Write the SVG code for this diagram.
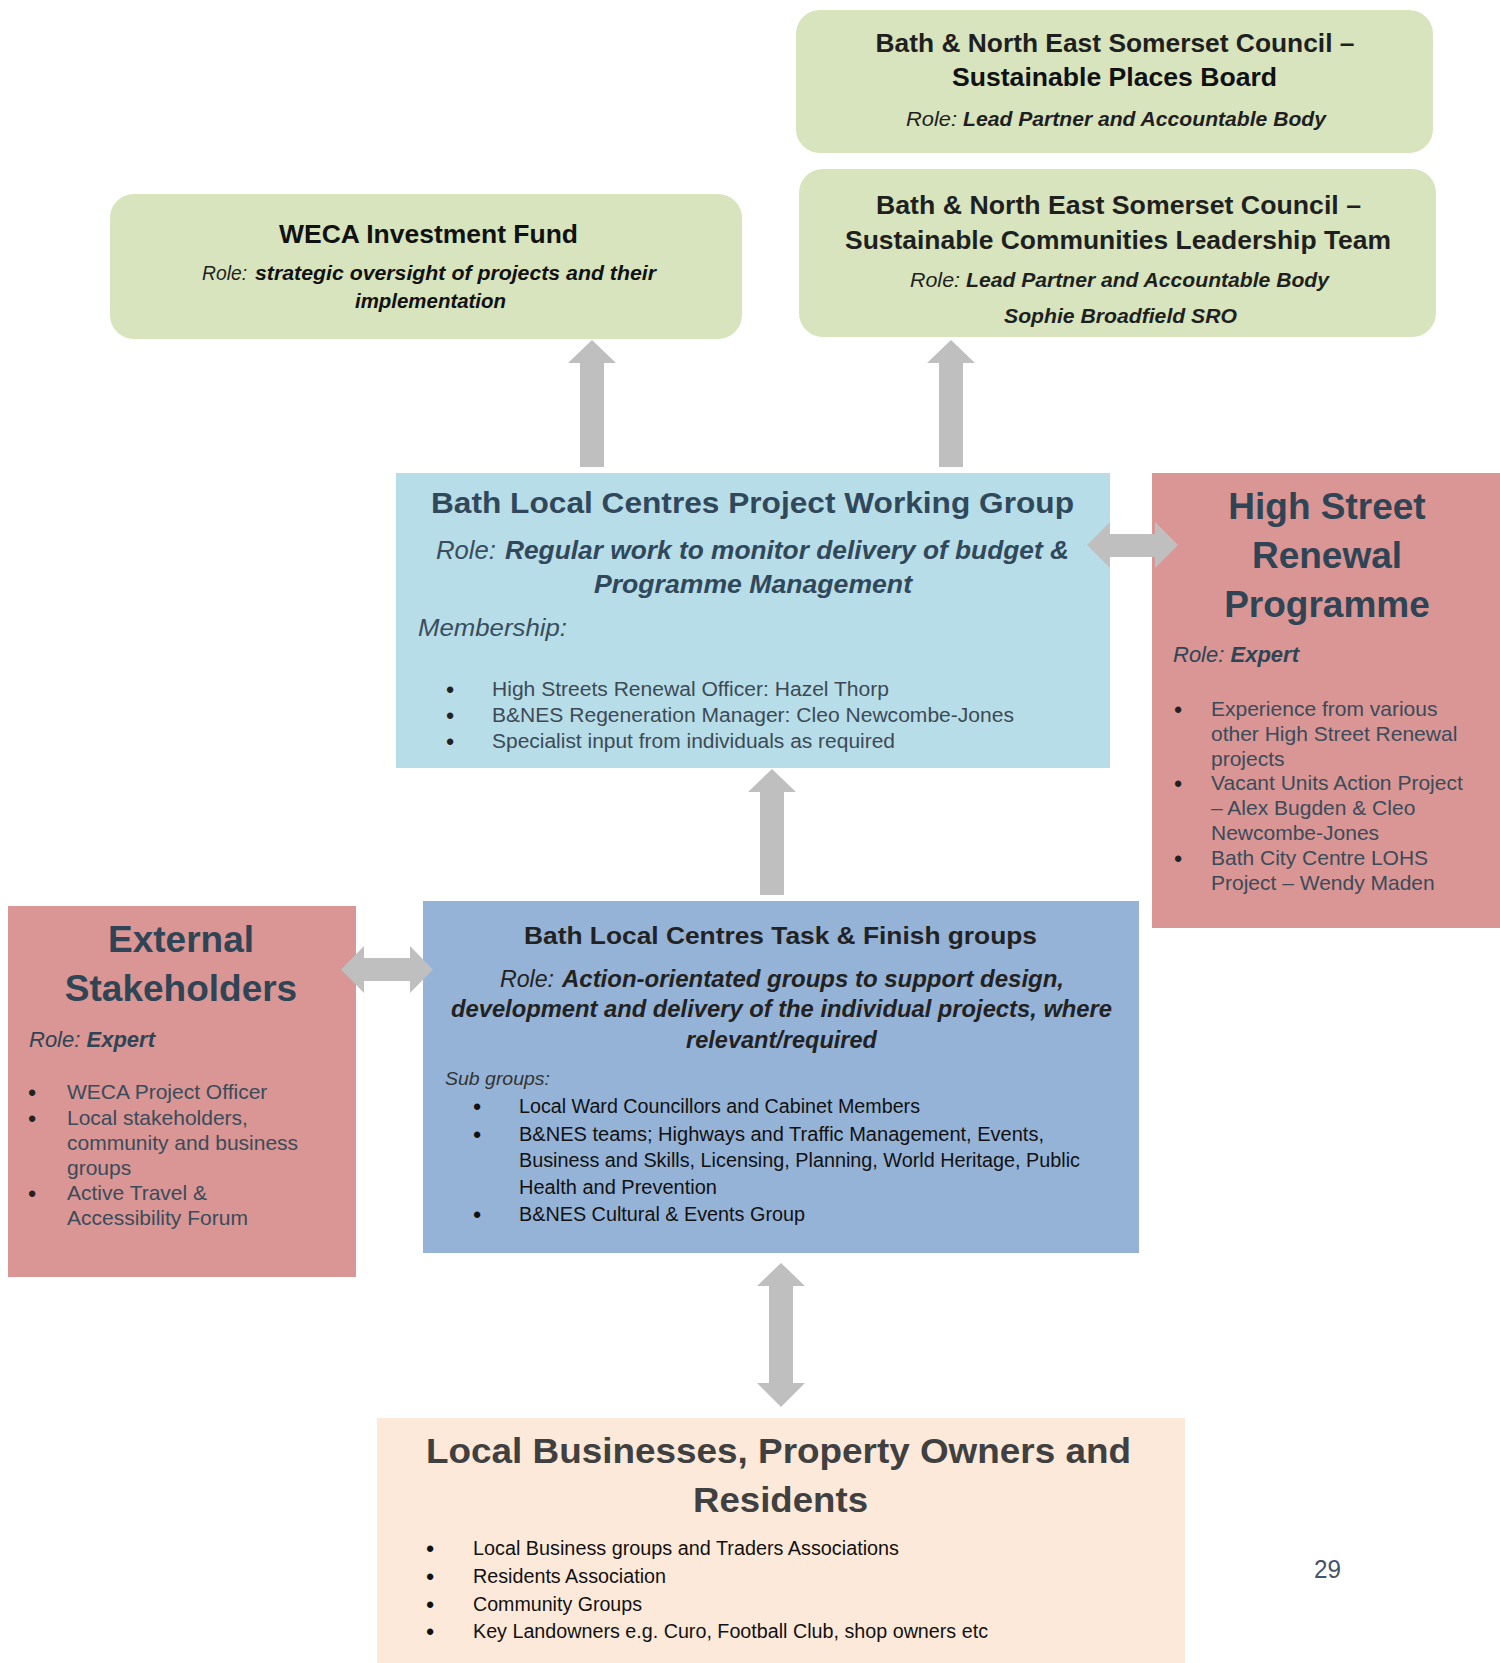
<svg xmlns="http://www.w3.org/2000/svg" width="1500" height="1663" viewBox="0 0 1500 1663">
<style>
text{font-family:"Liberation Sans",Arial,sans-serif}
.b{font-weight:bold}
.i{font-style:italic}
.bi{font-weight:bold;font-style:italic}
.g{fill:#d7e4bd}
.gt{fill:#1f1f1f}
.pk{fill:#d99694}
.pkt{fill:#2f4455}
.pkb{fill:#3a4b5a;font-size:21px}
.arr{fill:#bfbfbf}
.bul{text-anchor:middle;font-size:22px;font-weight:bold}
.c{text-anchor:middle}
</style>
<rect width="1500" height="1663" fill="#ffffff"/>

<g id="places-board">
<rect x="796" y="10" width="637" height="143" rx="24" class="g"/>
<text x="875.5" y="52" class="b gt" font-size="25" textLength="479" lengthAdjust="spacingAndGlyphs">Bath &amp; North East Somerset Council –</text>
<text x="952" y="86" class="b" fill="#111" font-size="25" textLength="325" lengthAdjust="spacingAndGlyphs">Sustainable Places Board</text>
<text x="906" y="126" class="i gt" font-size="20" textLength="51" lengthAdjust="spacingAndGlyphs">Role:</text>
<text x="963" y="126" class="bi gt" font-size="20" textLength="363" lengthAdjust="spacingAndGlyphs">Lead Partner and Accountable Body</text>
</g>

<g id="leadership-team">
<rect x="799" y="169" width="637" height="168" rx="24" class="g"/>
<text x="876" y="214" class="b gt" font-size="25" textLength="485" lengthAdjust="spacingAndGlyphs">Bath &amp; North East Somerset Council –</text>
<text x="845" y="249" class="b gt" font-size="25" textLength="546" lengthAdjust="spacingAndGlyphs">Sustainable Communities Leadership Team</text>
<text x="910" y="287" class="i gt" font-size="20" textLength="50" lengthAdjust="spacingAndGlyphs">Role:</text>
<text x="966" y="287" class="bi gt" font-size="20" textLength="363" lengthAdjust="spacingAndGlyphs">Lead Partner and Accountable Body</text>
<text x="1004" y="323" class="bi gt" font-size="20" textLength="233" lengthAdjust="spacingAndGlyphs">Sophie Broadfield SRO</text>
</g>

<g id="weca">
<rect x="110" y="194" width="632" height="145" rx="24" class="g"/>
<text x="279" y="243" class="b" fill="#111" font-size="25" textLength="299" lengthAdjust="spacingAndGlyphs">WECA Investment Fund</text>
<text x="202" y="280" class="i gt" font-size="20" textLength="45" lengthAdjust="spacingAndGlyphs">Role:</text>
<text x="255" y="280" class="bi" fill="#111" font-size="20" textLength="401" lengthAdjust="spacingAndGlyphs">strategic oversight of projects and their</text>
<text x="355" y="308" class="bi" fill="#111" font-size="20" textLength="151" lengthAdjust="spacingAndGlyphs">implementation</text>
</g>

<g id="working-group">
<rect x="396" y="473" width="714" height="295" fill="#b7dde8"/>
<text x="431" y="513" class="b" fill="#31485a" font-size="29" textLength="643" lengthAdjust="spacingAndGlyphs">Bath Local Centres Project Working Group</text>
<text x="436" y="559" class="i" fill="#3a4d5c" font-size="25" textLength="60" lengthAdjust="spacingAndGlyphs">Role:</text>
<text x="505" y="559" class="bi" fill="#31485a" font-size="25" textLength="564" lengthAdjust="spacingAndGlyphs">Regular work to monitor delivery of budget &amp;</text>
<text x="594" y="593" class="bi" fill="#31485a" font-size="25" textLength="318" lengthAdjust="spacingAndGlyphs">Programme Management</text>
<text x="418" y="636" class="i" fill="#3a4d5c" font-size="23" textLength="149" lengthAdjust="spacingAndGlyphs">Membership:</text>
<text x="450" y="697" class="bul" fill="#222">•</text>
<text x="450" y="723" class="bul" fill="#222">•</text>
<text x="450" y="749" class="bul" fill="#222">•</text>
<text x="492" y="696" fill="#3d4a55" font-size="20" textLength="397" lengthAdjust="spacingAndGlyphs">High Streets Renewal Officer: Hazel Thorp</text>
<text x="492" y="722" fill="#3d4a55" font-size="20" textLength="522" lengthAdjust="spacingAndGlyphs">B&amp;NES Regeneration Manager: Cleo Newcombe-Jones</text>
<text x="492" y="748" fill="#3d4a55" font-size="20" textLength="403" lengthAdjust="spacingAndGlyphs">Specialist input from individuals as required</text>
</g>

<g id="high-street">
<rect x="1152" y="473" width="348" height="455" class="pk"/>
<text x="1327" y="519" class="b c pkt" font-size="37">High Street</text>
<text x="1327" y="568" class="b c pkt" font-size="37">Renewal</text>
<text x="1327" y="617" class="b c pkt" font-size="37">Programme</text>
<text x="1173" y="662" class="pkt" font-size="22"><tspan class="i">Role: </tspan><tspan class="bi">Expert</tspan></text>
<text x="1178" y="717" class="bul" fill="#222">•</text>
<text x="1178" y="791" class="bul" fill="#222">•</text>
<text x="1178" y="866" class="bul" fill="#222">•</text>
<text x="1211" y="716" class="pkb">Experience from various</text>
<text x="1211" y="741" class="pkb">other High Street Renewal</text>
<text x="1211" y="766" class="pkb">projects</text>
<text x="1211" y="790" class="pkb">Vacant Units Action Project</text>
<text x="1211" y="815" class="pkb">– Alex Bugden &amp; Cleo</text>
<text x="1211" y="840" class="pkb">Newcombe-Jones</text>
<text x="1211" y="865" class="pkb">Bath City Centre LOHS</text>
<text x="1211" y="890" class="pkb">Project – Wendy Maden</text>
</g>

<g id="external">
<rect x="8" y="906" width="348" height="371" class="pk"/>
<text x="181" y="952" class="b c pkt" font-size="37">External</text>
<text x="181" y="1001" class="b c pkt" font-size="37">Stakeholders</text>
<text x="29" y="1047" class="pkt" font-size="22"><tspan class="i">Role: </tspan><tspan class="bi">Expert</tspan></text>
<text x="32" y="1100" class="bul" fill="#222">•</text>
<text x="32" y="1126" class="bul" fill="#222">•</text>
<text x="32" y="1201" class="bul" fill="#222">•</text>
<text x="67" y="1099" class="pkb">WECA Project Officer</text>
<text x="67" y="1125" class="pkb">Local stakeholders,</text>
<text x="67" y="1150" class="pkb">community and business</text>
<text x="67" y="1175" class="pkb">groups</text>
<text x="67" y="1200" class="pkb">Active Travel &amp;</text>
<text x="67" y="1225" class="pkb">Accessibility Forum</text>
</g>

<g id="task-finish">
<rect x="423" y="901" width="716" height="352" fill="#95b3d7"/>
<text x="524" y="944" class="b" fill="#222" font-size="24" textLength="513" lengthAdjust="spacingAndGlyphs">Bath Local Centres Task &amp; Finish groups</text>
<text x="500" y="987" class="i" fill="#222" font-size="24" textLength="54" lengthAdjust="spacingAndGlyphs">Role:</text>
<text x="562" y="987" class="bi" fill="#222" font-size="24" textLength="502" lengthAdjust="spacingAndGlyphs">Action-orientated groups to support design,</text>
<text x="451" y="1017" class="bi" fill="#222" font-size="24" textLength="661" lengthAdjust="spacingAndGlyphs">development and delivery of the individual projects, where</text>
<text x="686" y="1048" class="bi" fill="#222" font-size="24" textLength="191" lengthAdjust="spacingAndGlyphs">relevant/required</text>
<text x="445" y="1085" class="i" fill="#333" font-size="19" textLength="105" lengthAdjust="spacingAndGlyphs">Sub groups:</text>
<text x="477" y="1114" class="bul" fill="#111">•</text>
<text x="477" y="1142" class="bul" fill="#111">•</text>
<text x="477" y="1222" class="bul" fill="#111">•</text>
<text x="519" y="1113" fill="#111" font-size="20" textLength="401" lengthAdjust="spacingAndGlyphs">Local Ward Councillors and Cabinet Members</text>
<text x="519" y="1141" fill="#111" font-size="20" textLength="525" lengthAdjust="spacingAndGlyphs">B&amp;NES teams; Highways and Traffic Management, Events,</text>
<text x="519" y="1167" fill="#111" font-size="20" textLength="561" lengthAdjust="spacingAndGlyphs">Business and Skills, Licensing, Planning, World Heritage, Public</text>
<text x="519" y="1194" fill="#111" font-size="20" textLength="198" lengthAdjust="spacingAndGlyphs">Health and Prevention</text>
<text x="519" y="1221" fill="#111" font-size="20" textLength="286" lengthAdjust="spacingAndGlyphs">B&amp;NES Cultural &amp; Events Group</text>
</g>

<g id="local-businesses">
<rect x="377" y="1418" width="808" height="245" fill="#fde9d9"/>
<text x="426" y="1463" class="b" fill="#404040" font-size="35" textLength="705" lengthAdjust="spacingAndGlyphs">Local Businesses, Property Owners and</text>
<text x="693" y="1512" class="b" fill="#404040" font-size="35" textLength="175" lengthAdjust="spacingAndGlyphs">Residents</text>
<text x="430" y="1556" class="bul" fill="#111">•</text>
<text x="430" y="1584" class="bul" fill="#111">•</text>
<text x="430" y="1612" class="bul" fill="#111">•</text>
<text x="430" y="1639" class="bul" fill="#111">•</text>
<text x="473" y="1555" fill="#111" font-size="20" textLength="426" lengthAdjust="spacingAndGlyphs">Local Business groups and Traders Associations</text>
<text x="473" y="1583" fill="#111" font-size="20" textLength="193" lengthAdjust="spacingAndGlyphs">Residents Association</text>
<text x="473" y="1611" fill="#111" font-size="20" textLength="169" lengthAdjust="spacingAndGlyphs">Community Groups</text>
<text x="473" y="1638" fill="#111" font-size="20" textLength="515" lengthAdjust="spacingAndGlyphs">Key Landowners e.g. Curo, Football Club, shop owners etc</text>
</g>

<g id="page-number">
<text x="1314" y="1578" fill="#44546a" font-size="25" textLength="27" lengthAdjust="spacingAndGlyphs">29</text>
</g>

<g id="connectors">
<path class="arr" d="M592,340 L616,363 L604,363 L604,467 L580,467 L580,363 L568,363 Z"/>
<path class="arr" d="M951,340 L975,363 L963,363 L963,467 L939,467 L939,363 L927,363 Z"/>
<path class="arr" d="M772,769 L796,792 L784,792 L784,895 L760,895 L760,792 L748,792 Z"/>
<path class="arr" d="M781,1263 L805,1286 L793,1286 L793,1383 L805,1383 L781,1407 L757,1383 L769,1383 L769,1286 L757,1286 Z"/>
<path class="arr" d="M1087,545 L1110,522 L1110,534 L1155,534 L1155,522 L1178,545 L1155,568 L1155,557 L1110,557 L1110,568 Z"/>
<path class="arr" d="M341,969.5 L364,946 L364,958 L410,958 L410,946 L433,969.5 L410,993 L410,981 L364,981 L364,993 Z"/>
</g>
</svg>
